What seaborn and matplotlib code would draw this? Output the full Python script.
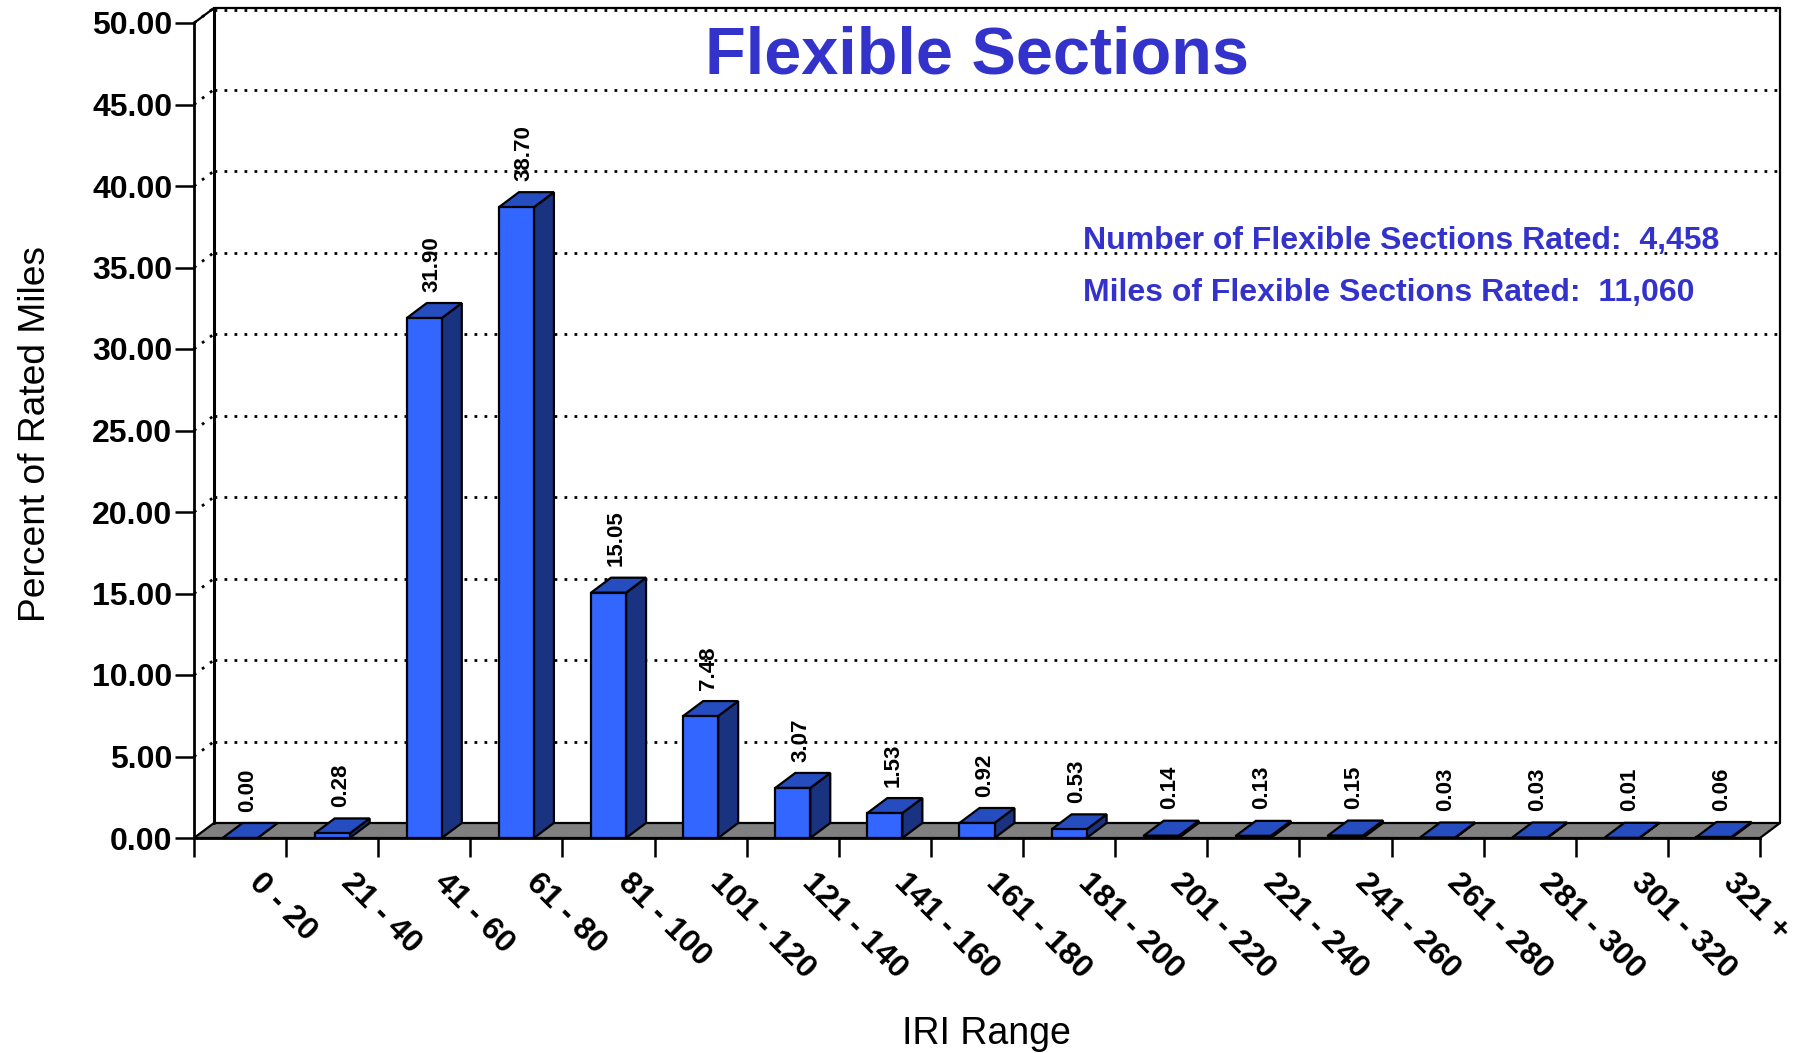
import matplotlib
matplotlib.use('Agg')
import matplotlib.pyplot as plt
from matplotlib.patches import Polygon
import seaborn as sns
import pandas as pd

categories = ['0 - 20', '21 - 40', '41 - 60', '61 - 80', '81 - 100', '101 - 120', '121 - 140',
              '141 - 160', '161 - 180', '181 - 200', '201 - 220', '221 - 240', '241 - 260',
              '261 - 280', '281 - 300', '301 - 320', '321 +']
values = [0.00, 0.28, 31.90, 38.70, 15.05, 7.48, 3.07, 1.53, 0.92, 0.53, 0.14, 0.13, 0.15, 0.03, 0.03, 0.01, 0.06]
y_ticks = [0, 5, 10, 15, 20, 25, 30, 35, 40, 45, 50]

sns.set_theme(style='white')
plt.rcParams['font.family'] = ['Liberation Sans', 'DejaVu Sans']

W, H = 1800, 1053
left, right, top, bottom = 194, 1760, 23, 838
fig = plt.figure(figsize=(W / 100, H / 100), dpi=100)
ax = fig.add_axes([left / W, 1 - bottom / H, (right - left) / W, (bottom - top) / H])

df = pd.DataFrame({'range': categories, 'pct': values})
sns.barplot(data=df, x='range', y='pct', ax=ax, color='#3366FF', saturation=1, width=0.38,
            edgecolor='black', linewidth=1.6, zorder=5)
ax.set_xlim(-0.5, 16.5)
ax.set_ylim(0, 50)

# depth of the fake 3D box, pixels turned into data units
dx = 20 / ((right - left) / 17)
dy = 15 / ((bottom - top) / 50)
x0, x1 = -0.5, 16.5
dots = (0, (1, 2.6))

# floor and walls
ax.add_patch(Polygon([(x0, 0), (x1, 0), (x1 + dx, dy), (x0 + dx, dy)], closed=True, fc='#808080',
                     ec='black', lw=1.6, clip_on=False, zorder=1))
ax.plot([x0 + dx, x0 + dx], [dy, 50 + dy], color='black', lw=2.2, clip_on=False, zorder=2)
ax.plot([x1 + dx, x1 + dx], [dy, 50 + dy], color='black', lw=1.6, clip_on=False, zorder=2)
ax.plot([x0 + dx, x1 + dx], [50 + dy, 50 + dy], color='black', lw=1.6, clip_on=False, zorder=2)
ax.plot([x0, x0 + dx], [50, 50 + dy], color='black', lw=1.6, clip_on=False, zorder=2)
for t in y_ticks[1:]:
    shift = 0.1 if t == 50 else 0
    ax.plot([x0 + dx, x1 + dx], [t + dy - shift, t + dy - shift], color='black', lw=2, ls=dots,
            clip_on=False, zorder=2)
    ax.plot([x0, x0 + dx], [t, t + dy], color='black', lw=2, ls=dots, clip_on=False, zorder=2)

# side and top faces of each bar, taken from the drawn rectangles
for bar, val in zip(ax.patches[:17], values):
    xa = bar.get_x()
    xb = xa + bar.get_width()
    h = bar.get_height()
    ax.add_patch(Polygon([(xb, 0), (xb + dx, dy), (xb + dx, h + dy), (xb, h)], closed=True,
                         fc='#1A3380', ec='black', lw=1.6, clip_on=False, zorder=4))
    ax.add_patch(Polygon([(xa, h), (xb, h), (xb + dx, h + dy), (xa + dx, h + dy)], closed=True,
                         fc='#264DBF', ec='black', lw=1.6, clip_on=False, zorder=4))
    ax.text(xa + bar.get_width() / 2 + dx * 0.4, h + dy + 0.7, f'{val:.2f}', rotation=90, ha='center',
            va='bottom', fontsize=16, fontweight='bold', color='black', zorder=6)

for sp in ['top', 'right']:
    ax.spines[sp].set_visible(False)
for sp in ['left', 'bottom']:
    ax.spines[sp].set_linewidth(2)
    ax.spines[sp].set_color('black')
    ax.spines[sp].set_zorder(3)

ax.set_yticks(y_ticks)
ax.set_yticklabels([f'{t:.2f}' for t in y_ticks], fontsize=23, fontweight='bold', color='black')
ax.set_xticks([i - 0.5 for i in range(18)], minor=False)
ax.set_xticklabels([])
ax.tick_params(axis='both', which='major', length=14, width=1.8, color='black', left=True, bottom=True, pad=1.5)
for i, cat in enumerate(categories):
    ax.annotate(cat, xy=(i, 0), xycoords=('data', 'axes fraction'), xytext=(10, -29),
                textcoords='offset points', rotation=-45, rotation_mode='anchor', ha='left', va='center',
                fontsize=23, fontweight='bold', color='black')

ax.set_xlabel('')
ax.set_ylabel('')
fig.text(986 / W, 1 - 1034 / H, 'IRI Range', fontsize=27, ha='center', va='center', color='black')
fig.text(36 / W, 1 - 434 / H, 'Percent of Rated Miles', fontsize=26.7, rotation=90, ha='center', va='center', color='black')
fig.text(977 / W, 1 - 57 / H, 'Flexible Sections', fontsize=48, fontweight='bold', ha='center', va='center', color='#3333CC')
fig.text(1083 / W, 1 - 241 / H, 'Number of Flexible Sections Rated:  4,458', fontsize=23, fontweight='bold', ha='left', va='center', color='#3333CC')
fig.text(1083 / W, 1 - 293 / H, 'Miles of Flexible Sections Rated:  11,060', fontsize=23, fontweight='bold', ha='left', va='center', color='#3333CC')

fig.savefig('out.png', dpi=100)
